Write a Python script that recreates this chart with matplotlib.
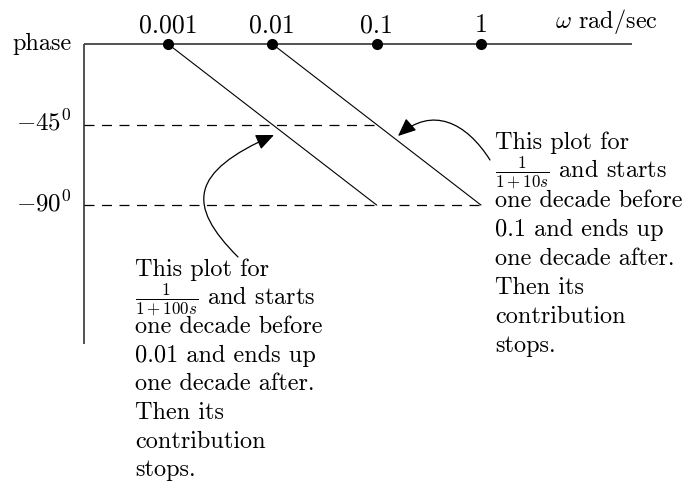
import numpy as np
import matplotlib
matplotlib.use('Agg')
import matplotlib.pyplot as plt
from matplotlib.patches import FancyArrowPatch
from matplotlib.path import Path

plt.rcParams['font.family'] = ['cmr10', 'DejaVu Serif']
plt.rcParams['mathtext.fontset'] = 'cm'
plt.rcParams['axes.unicode_minus'] = False

# data
freqs = [0.001, 0.01, 0.1, 1]
freq_labels = ['0.001', '0.01', '0.1', '1']
phase_levels = [-45, -90]
phase_labels = [r'$-45^0$', r'$-90^0$']
corner_freqs = [0.01, 0.1]          # corners of 1/(1+100s) and 1/(1+10s)
asym_phase = [0, -90]               # straight-line approx: decade before -> decade after
dash_ends = [0.1, 1]                # where the dashed guides stop

left_note = ['This plot for', r'$\frac{1}{1+100s}$ and starts', 'one decade before',
             '0.01 and ends up', 'one decade after.', 'Then its', 'contribution', 'stops.']
right_note = ['This plot for', r'$\frac{1}{1+10s}$ and starts', 'one decade before',
              '0.1 and ends up', 'one decade after.', 'Then its', 'contribution', 'stops.']

# layout (pixels of the 687x487 picture)
W, H = 687, 487
x0, dec = 168, 104.3      # pixel of 0.001 and pixels per decade
y0, y90 = 44, 205         # pixel of 0 deg and -90 deg
fs = 17.5


def w_at(px):
    return 10 ** (-3 + (px - x0) / dec)


def ph_at(py):
    return -90 * (py - y0) / (y90 - y0)


fig = plt.figure(figsize=(W / 100, H / 100), dpi=100)
ax = fig.add_axes([0, 0, 1, 1])
ax.set_xscale('log')
ax.set_xlim(w_at(0), w_at(W))
ax.set_ylim(ph_at(H), ph_at(0))
ax.axis('off')

pix = fig.add_axes([0, 0, 1, 1], facecolor='none')
pix.set_xlim(0, W)
pix.set_ylim(H, 0)
pix.axis('off')

# axes lines
ax.plot([w_at(83.5), w_at(632)], [0, 0], color='#444444', lw=1.3, solid_capstyle='butt')
ax.plot([w_at(83.5), w_at(83.5)], [0, ph_at(344)], color='#444444', lw=1.3, solid_capstyle='butt')

# decade dots + labels
ax.plot(freqs, [0] * len(freqs), 'o', color='black', ms=7)
for f, lab in zip(freqs, freq_labels):
    ax.annotate(lab, (f, 0), xytext=(0, 8.6), textcoords='offset points',
                ha='center', va='baseline', fontsize=18.5)

# dashed guides
for lev, end, lab in zip(phase_levels, dash_ends, phase_labels):
    ax.plot([w_at(84), end], [lev, lev], color='black', lw=0.9, dashes=(8, 6))
    ax.annotate(lab, (w_at(72), lev), xytext=(0, -4.3), textcoords='offset points',
                ha='right', va='baseline', fontsize=18)

# asymptotic phase lines
for fc in corner_freqs:
    ax.plot([fc / 10, fc * 10], asym_phase, color='black', lw=0.8)

pix.text(72, 50, 'phase', ha='right', va='baseline', fontsize=fs)
pix.text(658, 28, r'$\omega$ rad/sec', ha='right', va='baseline', fontsize=fs)

# notes
for i, s in enumerate(left_note):
    pix.text(135, 276 + i * 28.6 - (1 if i == 1 else 0), s,
             ha='left', va='baseline', fontsize=fs)
for i, s in enumerate(right_note):
    pix.text(495, 149 + i * 29.0 - (1 if i == 1 else 0), s,
             ha='left', va='baseline', fontsize=fs)

# curved arrows
def curved_arrow(pts):
    path = Path(pts, [Path.MOVETO, Path.CURVE4, Path.CURVE4, Path.CURVE4])
    arr = FancyArrowPatch(path=path, arrowstyle='-|>,head_length=0.55,head_width=0.24',
                          mutation_scale=20, color='black', lw=0.9,
                          transform=pix.transData)
    pix.add_patch(arr)


curved_arrow([(490, 160), (466, 122), (432, 106), (398, 136)])
curved_arrow([(238, 257), (186, 205), (190, 172), (274, 135)])

fig.savefig('out.png', dpi=100)
